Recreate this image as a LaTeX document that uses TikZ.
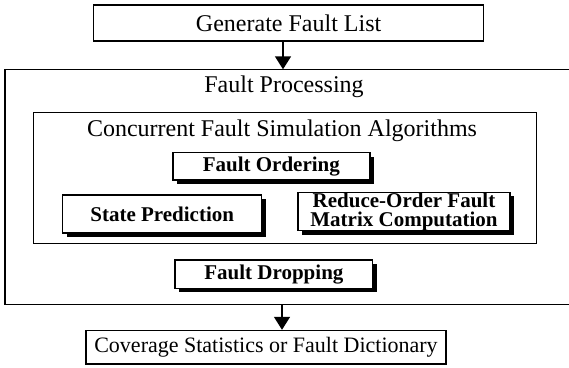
\documentclass[tikz,border=0pt]{standalone}
\usepackage{fontspec}
\setmainfont{Liberation Serif}
\usetikzlibrary{arrows.meta,shadows}
\begin{document}
\begin{tikzpicture}[x=1pt,y=-1pt,
  plainbox/.style={draw, line width=1.5pt, inner sep=0pt, align=center,
    font=\fontsize{24}{26}\selectfont},
  shadowbox/.style={draw, line width=1.4pt, fill=white, inner sep=0pt, align=center,
    font=\fontsize{21}{19}\selectfont\bfseries,
    drop shadow={shadow xshift=4pt, shadow yshift=-4pt, fill=black, opacity=1}},
  label/.style={inner sep=0pt, anchor=base, font=\fontsize{24}{26}\selectfont},
  arr/.style={line width=1.5pt, -{Triangle[width=16pt,length=13pt]}}]
\useasboundingbox (0,0) rectangle (569,367);

% top and bottom stages
\node[plainbox, minimum width=390pt, minimum height=36pt] (gen) at (288.6,23) {Generate Fault List};
\node[plainbox, minimum width=360pt, minimum height=33.5pt,
      font=\fontsize{22}{24}\selectfont] (cov) at (266,347.3) {Coverage Statistics or Fault Dictionary};

% fault processing container (open on the right)
\node[inner sep=0pt, minimum width=580pt, minimum height=235pt] (proc) at (295,187) {};
\draw[line width=1.5pt] (proc.north east) -- (proc.north west) -- (proc.south west) -- (proc.south east);
\node[label] (proctitle) at (284,92) {Fault Processing};

% concurrent algorithms group
\node[draw, line width=1.5pt, minimum width=503pt, minimum height=131pt, inner sep=0pt] (algo) at (285.2,178.1) {};
\node[label] (algotitle) at (282,136) {Concurrent Fault Simulation Algorithms};

\node[shadowbox, minimum width=197pt, minimum height=27.5pt] (order) at (271.3,166.3) {Fault Ordering};
\node[shadowbox, minimum width=199pt, minimum height=38pt] (state) at (162.2,214) {State Prediction};
\node[shadowbox, minimum width=212pt, minimum height=37pt] (matrix) at (404,211.5) {Reduce-Order Fault\\Matrix Computation};
\node[shadowbox, minimum width=197.7pt, minimum height=28.3pt] (drop) at (273.9,274.2) {Fault Dropping};

% flow arrows
\draw[arr] ([xshift=-5.6pt]gen.south) -- ([xshift=-5.6pt]gen.south |- proc.north);
\draw[arr] ([xshift=16pt]cov.north |- proc.south) -- ([xshift=16pt]cov.north);
\end{tikzpicture}
\end{document}
